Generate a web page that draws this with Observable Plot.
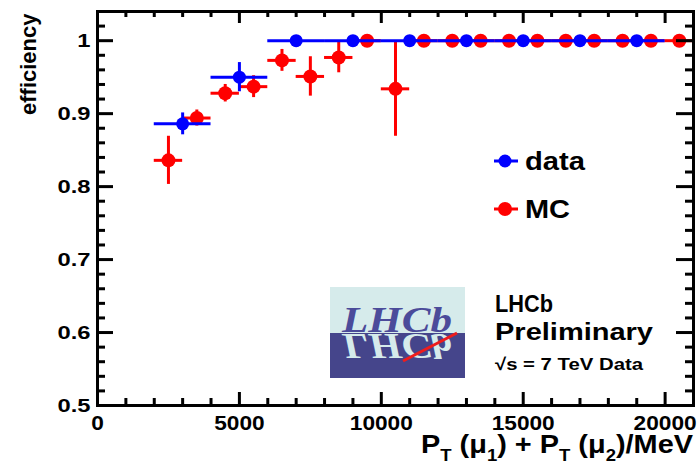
<!DOCTYPE html>
<html><head><meta charset="utf-8">
<script src="https://cdn.jsdelivr.net/npm/d3@7"></script>
<script src="https://cdn.jsdelivr.net/npm/@observablehq/plot@0.6"></script>
<style>body{margin:0;background:#fff} svg{display:block}</style>
</head><body><div id="chart"></div>
<script>
// ---- data ----
const dataX    = [3000, 5000, 7000, 9000, 11000, 13000, 15000, 17000, 19000];
const dataXErr = [1000, 1000, 1000, 1000, 1000, 1000, 1000, 1000, 1000];
const dataY    = [0.886, 0.950, 1, 1, 1, 1, 1, 1, 1];
const dataYErr = [0.015, 0.020, 0, 0, 0, 0, 0, 0, 0];

const mcX    = [2500, 3500, 4500, 5500, 6500, 7500, 8500, 9500, 10500, 11500, 12500, 13500, 14500, 15500, 16500, 17500, 18500, 19500, 20500];
const mcXErr = [500, 500, 500, 500, 500, 500, 500, 500, 500, 500, 500, 500, 500, 500, 500, 500, 500, 500, 500];
const mcY    = [0.836, 0.894, 0.928, 0.937, 0.973, 0.951, 0.977, 1, 0.934, 1, 1, 1, 1, 1, 1, 1, 1, 1, 1];
const mcYErr = [0.033, 0.011, 0.012, 0.015, 0.015, 0.027, 0.021, 0, 0.065, 0, 0, 0, 0, 0, 0, 0, 0, 0, 0];

const xMajorTicks = [0, 5000, 10000, 15000, 20000];
const xMinorTicks = [1000, 2000, 3000, 4000, 6000, 7000, 8000, 9000, 11000, 12000, 13000, 14000, 16000, 17000, 18000, 19000];
const yMajorTicks = [0.5, 0.6, 0.7, 0.8, 0.9, 1.0];
const yMinorTicks = [0.52, 0.54, 0.56, 0.58, 0.62, 0.64, 0.66, 0.68, 0.72, 0.74, 0.76, 0.78, 0.82, 0.84, 0.86, 0.88, 0.92, 0.94, 0.96, 0.98, 1.02];

const legendLabels = ["data", "MC"];
const legendColors = ["#0000ff", "#ff0000"];
const yTitle = "efficiency";
const infoLines = ["LHCb", "Preliminary", "\u221As = 7 TeV Data"];

// ---- rows ----
const dataRows = dataX.map((x, i) => ({x, xe: dataXErr[i], y: dataY[i], ye: dataYErr[i]}));
const mcRows = mcX.map((x, i) => ({x, xe: mcXErr[i], y: mcY[i], ye: mcYErr[i]}));

const W = 698, H = 468, mL = 97, mR = 5, mT = 11, mB = 63;
const iw = W - mL - mR, ih = H - mT - mB;
const font = "'Liberation Sans', Arial, Helvetica, sans-serif";
const BLUE = legendColors[0], RED = legendColors[1];

const chart = Plot.plot({
  width: W, height: H,
  marginLeft: mL, marginRight: mR, marginTop: mT, marginBottom: mB,
  style: {fontFamily: font, fontWeight: "bold", background: "white", color: "black"},
  x: {domain: [0, 21000]},
  y: {domain: [0.5, 1.04]},
  marks: [
    // MC
    Plot.ruleY(mcRows, {y: "y", x1: d => d.x - d.xe, x2: d => d.x + d.xe, stroke: RED, strokeWidth: 3}),
    Plot.ruleX(mcRows.filter(d => d.ye > 0), {x: "x", y1: d => d.y - d.ye, y2: d => d.y + d.ye, stroke: RED, strokeWidth: 3}),
    Plot.dot(mcRows, {x: "x", y: "y", r: 7, fill: RED}),
    // data
    Plot.ruleY(dataRows, {y: "y", x1: d => d.x - d.xe, x2: d => d.x + d.xe, stroke: BLUE, strokeWidth: 3}),
    Plot.ruleX(dataRows.filter(d => d.ye > 0), {x: "x", y1: d => d.y - d.ye, y2: d => d.y + d.ye, stroke: BLUE, strokeWidth: 3}),
    Plot.dot(dataRows, {x: "x", y: "y", r: 6.5, fill: BLUE}),
    // inward ticks
    Plot.tickY(yMajorTicks, {y: d => d, insetRight: iw - 16, strokeWidth: 3}),
    Plot.tickY(yMinorTicks, {y: d => d, insetRight: iw - 8, strokeWidth: 3}),
    Plot.tickY(yMajorTicks, {y: d => d, insetLeft: iw - 17, strokeWidth: 3}),
    Plot.tickY(yMinorTicks, {y: d => d, insetLeft: iw - 8, strokeWidth: 3}),
    Plot.tickX(xMajorTicks, {x: d => d, insetTop: ih - 13, strokeWidth: 3}),
    Plot.tickX(xMinorTicks, {x: d => d, insetTop: ih - 7, strokeWidth: 3}),
    Plot.tickX(xMajorTicks, {x: d => d, insetBottom: ih - 12, strokeWidth: 3}),
    Plot.tickX(xMinorTicks, {x: d => d, insetBottom: ih - 6, strokeWidth: 3}),
    Plot.frame({strokeWidth: 3}),
    Plot.axisX({ticks: xMajorTicks, tickSize: 0, tickPadding: 10, fontSize: 21, tickFormat: d => String(d), label: null}),
    Plot.axisY({ticks: yMajorTicks, tickSize: 0, tickPadding: 7, fontSize: 19, tickFormat: d => String(+d.toFixed(1)), label: null}),
    Plot.text([yTitle], {frameAnchor: "top-left", text: d => d, rotate: -90, textAnchor: "end", lineAnchor: "middle", dx: -69, dy: 2, fontSize: 22})
  ]
});
document.getElementById("chart").appendChild(chart);

const svg = d3.select(chart);

// widen the tick labels horizontally like the reference (keeps their anchors)
function widen(selector, s) {
  svg.selectAll(selector).each(function () {
    const t = this.getAttribute("transform");
    if (t) {
      this.setAttribute("transform", t + ` scale(${s},1)`);
    } else {
      const x = +this.getAttribute("x") || 0, y = +this.getAttribute("y") || 0;
      this.setAttribute("x", 0); this.setAttribute("y", 0);
      this.setAttribute("transform", `translate(${x},${y}) scale(${s},1)`);
    }
  }).attr("font-weight", "bold");
}
widen('g[aria-label="y-axis tick label"] text', 1.25);
widen('g[aria-label="x-axis tick label"] text', 1.08);
svg.selectAll("text").attr("font-weight", "bold");

// legend
const lg = svg.append("g").attr("text-anchor", "start");
legendLabels.forEach((lab, i) => {
  const cy = mT + 150 + i * 48;
  lg.append("line").attr("x1", mL + 397).attr("x2", mL + 421).attr("y1", cy).attr("y2", cy)
    .attr("stroke", legendColors[i]).attr("stroke-width", 3);
  lg.append("circle").attr("cx", mL + 408).attr("cy", cy).attr("r", i ? 7 : 6.5).attr("fill", legendColors[i]);
  lg.append("text").attr("x", mL + 428).attr("y", cy + 9).text(lab)
    .attr("font-family", font).attr("font-weight", "bold").attr("font-size", 26)
    .attr("textLength", i ? 45 : 60).attr("lengthAdjust", "spacingAndGlyphs");
});

// LHCb logo
const lx = mL + 233, ly = mT + 276, lw = 135, lh = 91, split = 46;
const logo = svg.append("g").attr("text-anchor", "start");
logo.append("rect").attr("x", lx).attr("y", ly).attr("width", lw).attr("height", split).attr("fill", "#d6ebeb");
logo.append("rect").attr("x", lx).attr("y", ly + split).attr("width", lw).attr("height", lh - split).attr("fill", "#45458b");
const serif = "'Liberation Serif', 'DejaVu Serif', serif";
logo.append("text").attr("x", lx + 12).attr("y", ly + split - 1).text(infoLines[0])
  .attr("font-family", serif).attr("font-style", "italic").attr("font-weight", "bold")
  .attr("font-size", 36).attr("fill", "#4b4b9a").attr("textLength", 110).attr("lengthAdjust", "spacingAndGlyphs");
logo.append("text").attr("x", lx + 12).attr("y", ly + split - 1).text(infoLines[0])
  .attr("transform", `translate(0,${2 * (ly + split)}) scale(1,-1)`)
  .attr("font-family", serif).attr("font-style", "italic").attr("font-weight", "bold")
  .attr("font-size", 36).attr("fill", "#d6ebeb").attr("textLength", 110).attr("lengthAdjust", "spacingAndGlyphs");
logo.append("line").attr("x1", lx + 73).attr("y1", ly + 74).attr("x2", lx + 127).attr("y2", ly + split)
  .attr("stroke", "#ee1c1c").attr("stroke-width", 3);

// info text
const info = svg.append("g").attr("font-family", font).attr("font-weight", "bold").attr("text-anchor", "start");
info.append("text").attr("x", 495).attr("y", 312).text(infoLines[0]).attr("font-size", 24).attr("textLength", 58).attr("lengthAdjust", "spacingAndGlyphs");
info.append("text").attr("x", 495).attr("y", 340).text(infoLines[1]).attr("font-size", 24).attr("textLength", 158).attr("lengthAdjust", "spacingAndGlyphs");
info.append("text").attr("x", 495).attr("y", 370).text(infoLines[2]).attr("font-size", 17).attr("textLength", 148).attr("lengthAdjust", "spacingAndGlyphs");

// x-axis title with subscripts
const xt = svg.append("text").attr("x", W - mR).attr("y", 453).attr("text-anchor", "end")
  .attr("font-family", font).attr("font-weight", "bold").attr("font-size", 25)
  .attr("textLength", 272).attr("lengthAdjust", "spacingAndGlyphs");
const parts = [["P", 0], ["T", 1], [" (\u03BC", 0], ["1", 1], [") + P", 0], ["T", 1], [" (\u03BC", 0], ["2", 1], [")/MeV", 0]];
let shifted = false;
parts.forEach(([s, sub]) => {
  const t = xt.append("tspan").text(s);
  if (sub) { t.attr("font-size", 16).attr("dy", 8); shifted = true; }
  else if (shifted) { t.attr("dy", -8); shifted = false; }
});
</script>
</body></html>
